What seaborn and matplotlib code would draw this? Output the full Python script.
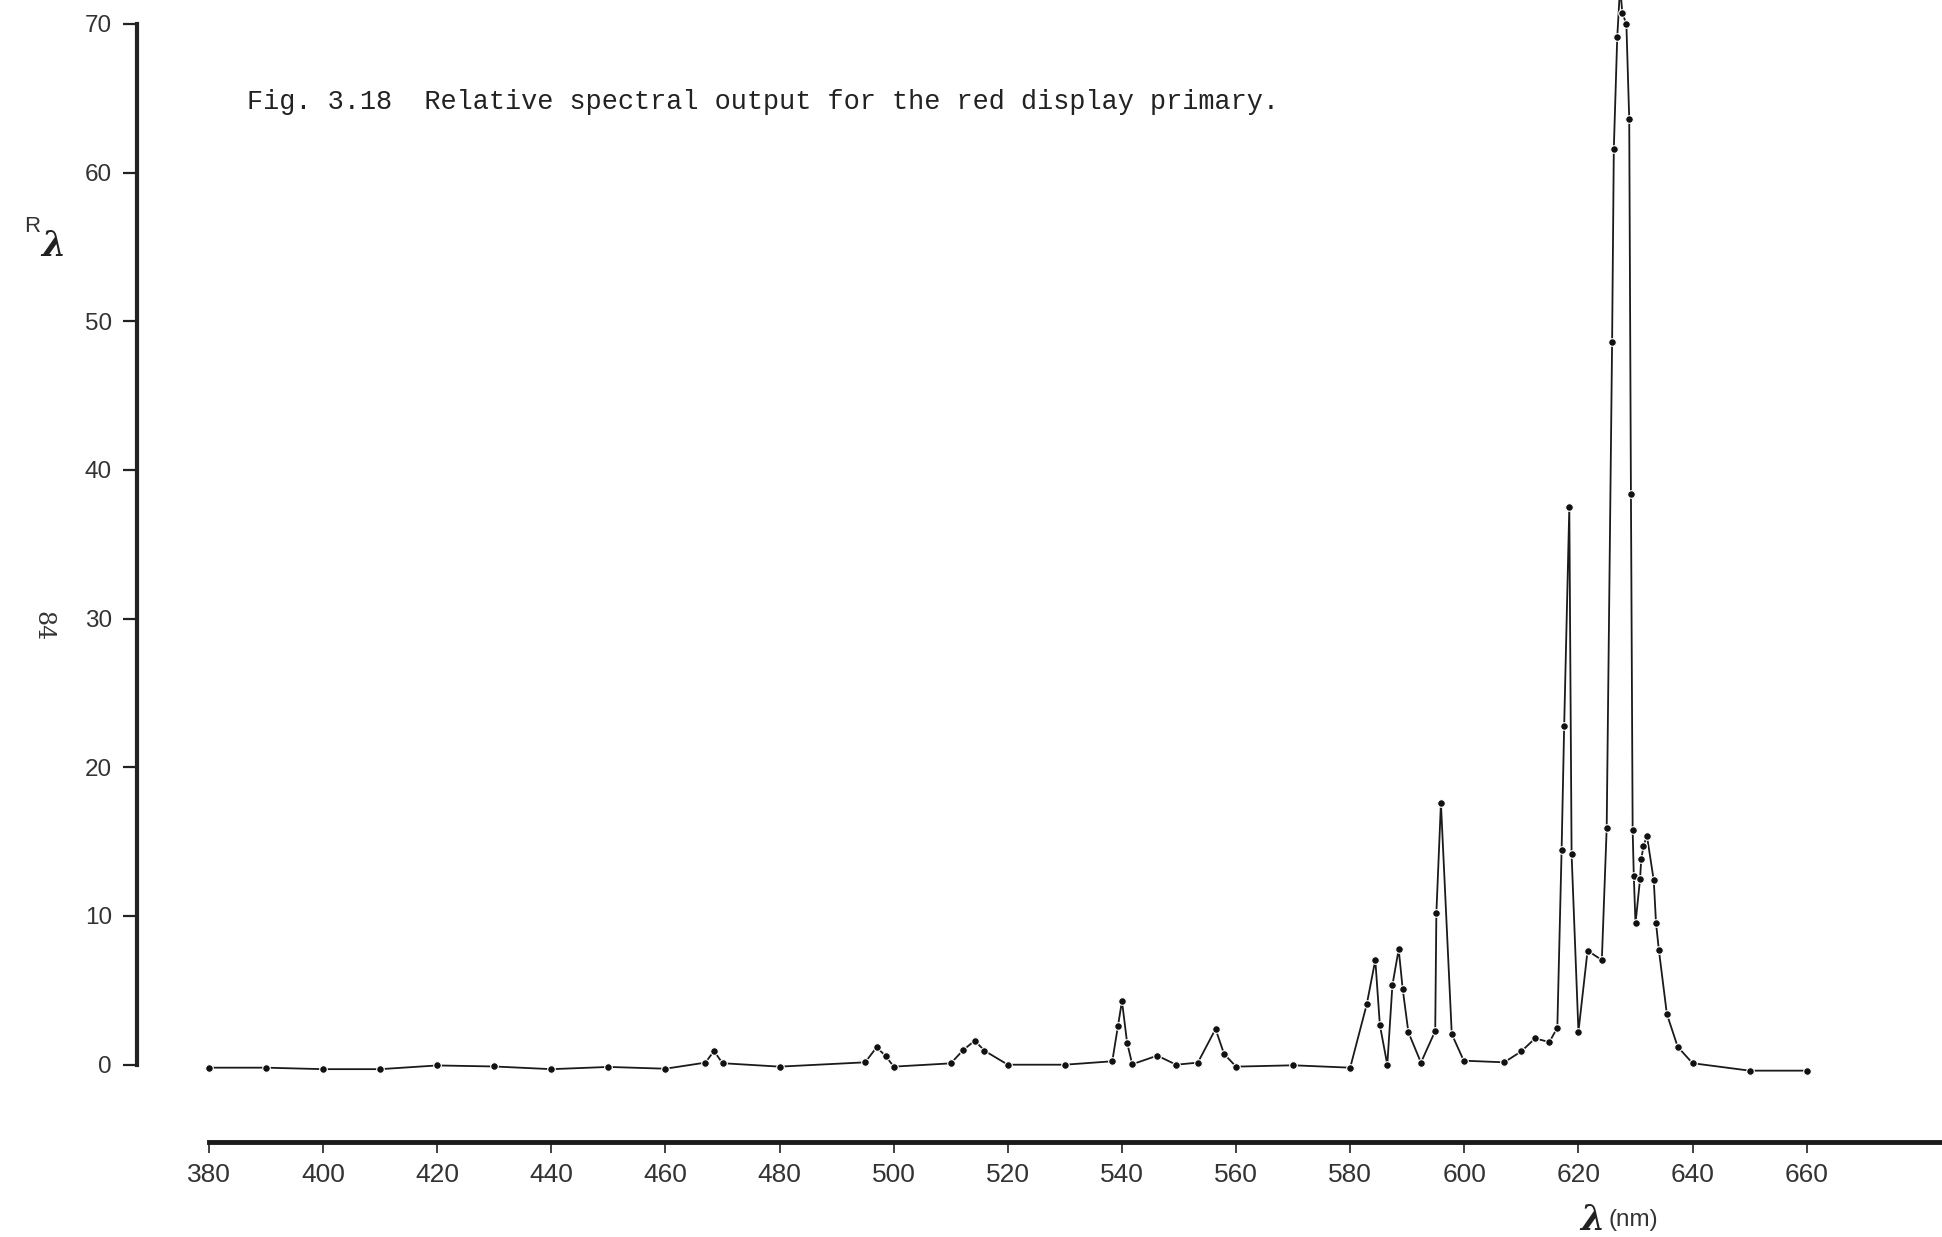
import matplotlib
matplotlib.use("Agg")
import matplotlib.pyplot as plt
import seaborn as sns
import pandas as pd

# ---- data ----
wavelength = [380, 390, 400, 410, 420, 430, 440, 450, 460, 467, 468.5, 470,
              480, 495, 497, 498.6, 500, 510, 512.2, 514.2, 515.9, 520, 530,
              538.3, 539.3, 540, 540.9, 541.8, 546.2, 549.5, 553.3, 556.4, 557.9,
              560, 570, 580, 582.9, 584.4, 585.2, 586.5, 587.4, 588.5, 589.2,
              590.2, 592.4, 594.9, 595.1, 595.9, 597.8, 599.9, 607, 610, 612.4,
              614.9, 616.3, 617.05, 617.5, 618.4, 618.8, 620, 621.6, 624.1,
              624.95, 625.9, 626.2, 626.8, 627.3, 627.7, 628.4, 628.9, 629.2,
              629.5, 629.7, 630.0, 630.8, 631.0, 631.4, 632.0, 633.2, 633.6,
              634.1, 635.5, 637.4, 640, 650, 660]
r_lambda = [-0.2, -0.2, -0.3, -0.3, -0.05, -0.12, -0.3, -0.15, -0.27, 0.14, 0.92, 0.1,
            -0.13, 0.16, 1.17, 0.58, -0.13, 0.09, 0.99, 1.62, 0.94, 0.0, 0.0,
            0.23, 2.6, 4.28, 1.48, 0.03, 0.61, 0.0, 0.14, 2.4, 0.72,
            -0.13, -0.04, -0.2, 4.06, 7.04, 2.67, 0.0, 5.36, 7.76, 5.09,
            2.18, 0.14, 2.27, 10.18, 17.6, 2.06, 0.27, 0.16, 0.9, 1.77,
            1.52, 2.49, 14.44, 22.8, 37.5, 14.15, 2.22, 7.67, 7.04,
            15.9, 48.6, 61.6, 69.1, 72.5, 70.7, 70.0, 63.6, 38.4,
            15.8, 12.7, 9.5, 12.5, 13.8, 14.7, 15.4, 12.4, 9.5,
            7.7, 3.4, 1.2, 0.1, -0.4, -0.4]
x_ticks = [380, 400, 420, 440, 460, 480, 500, 520, 540, 560, 580, 600, 620, 640, 660]
y_ticks = [0, 10, 20, 30, 40, 50, 60, 70]
title_text = "Fig. 3.18  Relative spectral output for the red display primary."

df = pd.DataFrame({"wl": wavelength, "r": r_lambda})

sns.set_theme(style="white")
plt.rcParams["font.family"] = ["Liberation Sans", "DejaVu Sans"]

W, H = 1942, 1237
fig = plt.figure(figsize=(W / 100, H / 100), dpi=100)
fig.patch.set_facecolor("white")

# axes geometry (pixel mapping from the reference)
px_per_nm = 5.706
x380 = 209.0
left_px = 137.0
xmin = 380 + (left_px - x380) / px_per_nm
xmax = 380 + (W - x380) / px_per_nm
y0_px, px_per_unit = 1064.7, 14.87
axis_px = 1142.0
ymin = (y0_px - axis_px) / px_per_unit
ymax = y0_px / px_per_unit
ax = fig.add_axes([left_px / W, (H - axis_px) / H, 1 - left_px / W, axis_px / H])
ax.set_facecolor("white")

sns.lineplot(data=df, x="wl", y="r", sort=False, estimator=None, ax=ax,
             color="#1a1a1a", linewidth=1.3, marker="o", markersize=5.5,
             markerfacecolor="#111111", markeredgecolor="white", markeredgewidth=0.8)

ax.set_xlim(xmin, xmax)
ax.set_ylim(ymin, ymax)
ax.set_xlabel("")
ax.set_ylabel("")

for s in ["top", "right"]:
    ax.spines[s].set_visible(False)
ax.spines["left"].set_bounds(0, 70)
ax.spines["left"].set_linewidth(3.0)
ax.spines["left"].set_color("#222222")
ax.spines["bottom"].set_bounds(380, xmax)
ax.spines["bottom"].set_linewidth(3.5)
ax.spines["bottom"].set_color("#1a1a1a")

ax.set_xticks(x_ticks)
ax.set_xticklabels([str(t) for t in x_ticks])
ax.set_yticks(y_ticks)
ax.set_yticklabels([str(t) for t in y_ticks])
ax.tick_params(axis="y", direction="out", length=10, width=1.6, color="#222222",
               pad=8, labelsize=17.5, labelcolor="#333333", left=True)
ax.tick_params(axis="x", direction="out", length=8, width=1.2, color="#222222",
               pad=7, labelsize=19, labelcolor="#333333", bottom=True)
ax.grid(False)

# title inside the plot (typewriter)
fig.text(247 / W, 1 - 102 / H, title_text, family=["Liberation Mono", "DejaVu Sans Mono"],
         fontsize=19.4, color="#222222", ha="left", va="center")

# y-axis label R_lambda
fig.text(24 / W, 1 - 227 / H, "R", fontsize=16, color="#333333", ha="left", va="center")
fig.text(41 / W, 1 - 246 / H, "λ", family=["DejaVu Serif"], fontsize=25, fontweight="bold",
         fontstyle="italic", color="#222222", ha="left", va="center")

# x-axis label
fig.text(1580 / W, 1 - 1220 / H, "λ", family=["DejaVu Serif"], fontsize=25, fontweight="bold",
         fontstyle="italic", color="#222222", ha="left", va="center")
fig.text(1608 / W, 1 - 1220 / H, "(nm)", fontsize=17.5, color="#333333", ha="left", va="center")

# page number, rotated
fig.text(43 / W, 1 - 626 / H, "84", family=["DejaVu Serif"], fontsize=17, color="#333333",
         rotation=270, ha="center", va="center")

fig.savefig("out.png", dpi=100, facecolor="white")
